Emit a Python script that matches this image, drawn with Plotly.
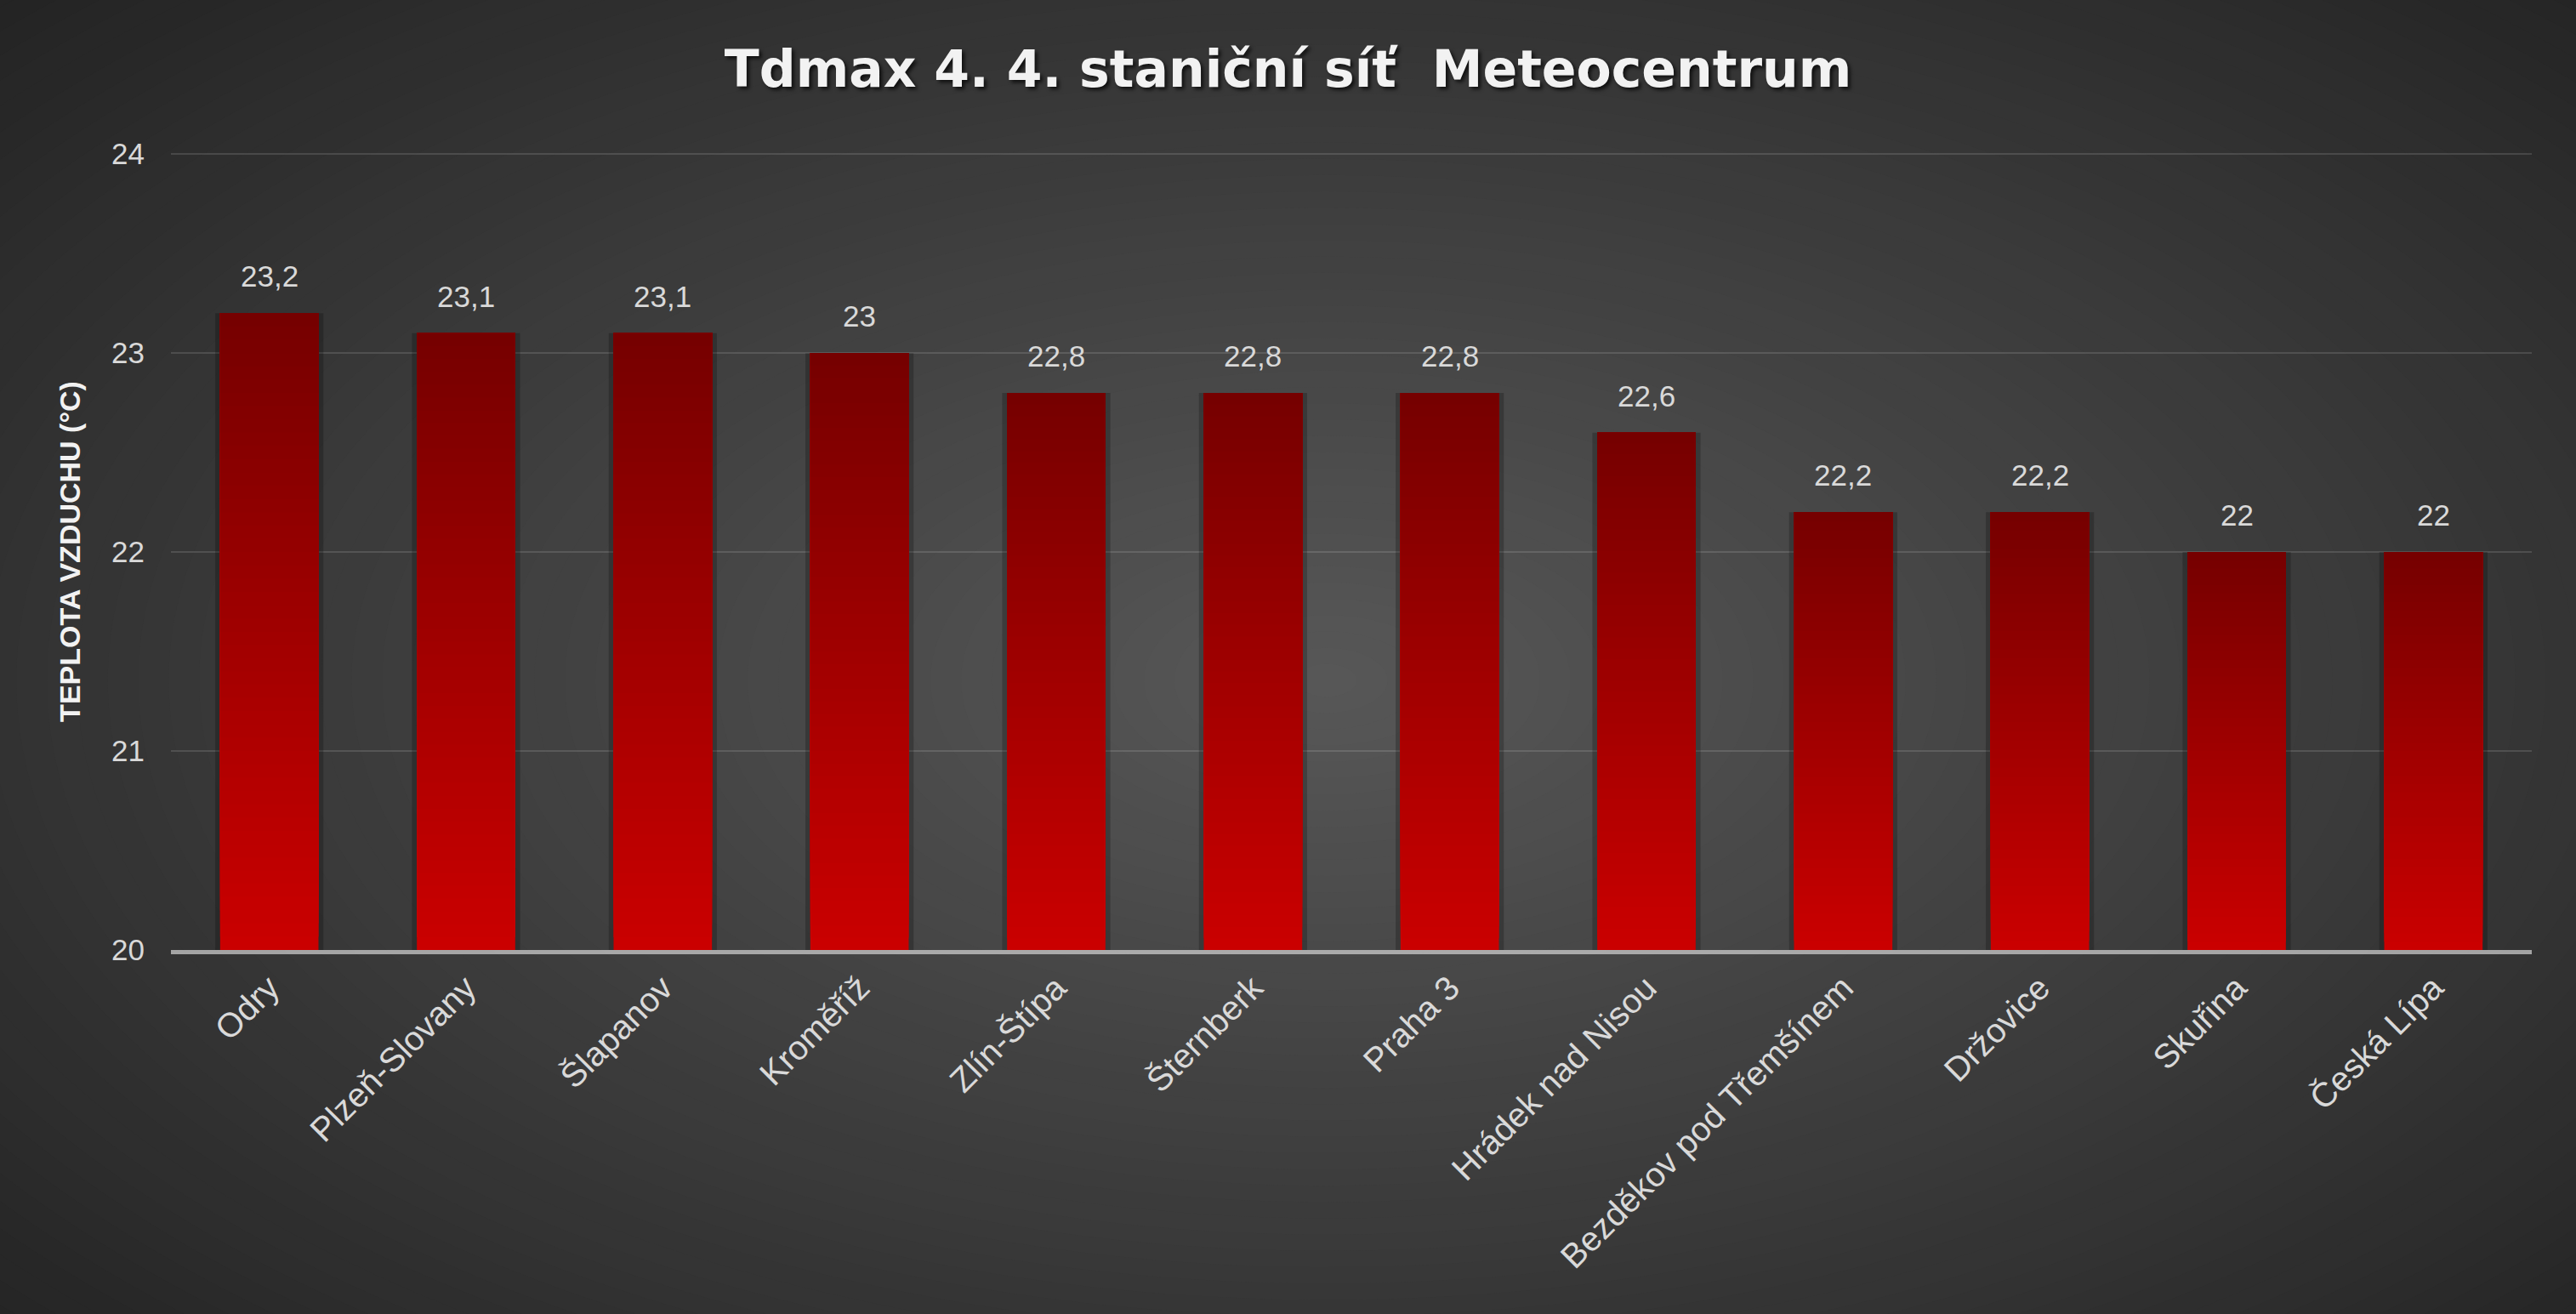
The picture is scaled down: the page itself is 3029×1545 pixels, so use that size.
import plotly.graph_objects as go

# data
stations = [
    "Odry", "Plzeň-Slovany", "Šlapanov", "Kroměříž", "Zlín-Štípa", "Šternberk",
    "Praha 3", "Hrádek nad Nisou", "Bezděkov pod Třemšínem", "Držovice", "Skuřina", "Česká Lípa",
]
tdmax = [23.2, 23.1, 23.1, 23.0, 22.8, 22.8, 22.8, 22.6, 22.2, 22.2, 22.0, 22.0]
y_ticks = [20, 21, 22, 23, 24]
chart_title = "Tdmax 4. 4. staniční síť\u00a0 Meteocentrum"
y_title = "TEPLOTA VZDUCHU (°C)"

W, H = 3029, 1545
ML, MR, MT, MB = 201, 52, 180, 428
Y_MIN, Y_MAX = 20, 24

TEXT = "#d9d9d9"
BAR_BOTTOM = (202, 0, 0)
BAR_TOP = (118, 0, 0)
N_STEPS = 48

labels = [f"{v:g}".replace(".", ",") for v in tdmax]
heights = [v - Y_MIN for v in tdmax]

fig = go.Figure()

# soft shadow behind the bars
fig.add_trace(go.Bar(
    x=stations, y=heights, base=Y_MIN, width=0.55,
    marker=dict(color="rgba(0,0,0,0.22)", line=dict(width=0)),
    showlegend=False, hoverinfo="skip",
))

# vertical gradient: each layer runs from a rising base up to the bar top
for k in range(N_STEPS):
    t = k / (N_STEPS - 1)
    col = "rgb(%d,%d,%d)" % tuple(round(b + (u - b) * t) for b, u in zip(BAR_BOTTOM, BAR_TOP))
    fig.add_trace(go.Bar(
        x=stations,
        y=[h * (1 - k / N_STEPS) for h in heights],
        base=[Y_MIN + h * k / N_STEPS for h in heights],
        width=0.5,
        marker=dict(color=col, line=dict(width=0)),
        showlegend=False, hoverinfo="skip",
    ))

for s, v, lab in zip(stations, tdmax, labels):
    fig.add_annotation(
        x=s, y=v, text=lab, showarrow=False, yanchor="bottom", yshift=22,
        font=dict(family="Liberation Sans, Arial", size=35, color=TEXT),
    )

# radial background
pw, ph = W - ML - MR, H - MT - MB
cx, cy = 1560, 800
rx, ry = 2150, 1150
c_in, c_out = 88, 36
shapes = []
N_BG = 60
for i in range(N_BG):
    f = 1 - i / N_BG
    g = round(c_out + (c_in - c_out) * (1 - f))
    x0, x1 = cx - rx * f, cx + rx * f
    y0, y1 = cy - ry * f, cy + ry * f
    shapes.append(dict(
        type="circle", xref="paper", yref="paper", layer="below",
        x0=(x0 - ML) / pw, x1=(x1 - ML) / pw,
        y0=(H - MB - y1) / ph, y1=(H - MB - y0) / ph,
        fillcolor=f"rgb({g},{g},{g})", line=dict(width=0),
    ))

fig.update_layout(
    width=W, height=H,
    margin=dict(l=ML, r=MR, t=MT, b=MB),
    paper_bgcolor=f"rgb({c_out},{c_out},{c_out})",
    plot_bgcolor="rgba(0,0,0,0)",
    barmode="overlay",
    shapes=shapes,
    title=dict(
        text=chart_title, x=0.5, xanchor="center", y=1 - 81 / H, yanchor="middle",
        font=dict(family="DejaVu Sans", size=60, color="#f2f2f2", weight="bold",
                  shadow="3px 3px 4px rgba(0,0,0,0.7)"),
    ),
    xaxis=dict(
        tickangle=-45, showgrid=False, ticks="",
        tickfont=dict(family="Liberation Sans, Arial", size=40, color=TEXT),
        showline=True, linecolor="rgba(225,225,225,0.65)", linewidth=5,
    ),
    yaxis=dict(
        # tiny headroom so the 24 gridline is still drawn
        range=[Y_MIN, Y_MAX + 0.005], tickvals=y_ticks, ticks="",
        gridcolor="rgba(255,255,255,0.13)", gridwidth=2, zeroline=False,
        tickfont=dict(family="Liberation Sans, Arial", size=35, color=TEXT),
        ticklabelstandoff=30,
        title=dict(text=y_title, standoff=26,
                   font=dict(family="Liberation Sans, Arial", size=34, color="#f2f2f2", weight="bold")),
    ),
)

fig.write_html("out.html", config={"displayModeBar": False},
               post_script="document.body.style.margin='0';")
